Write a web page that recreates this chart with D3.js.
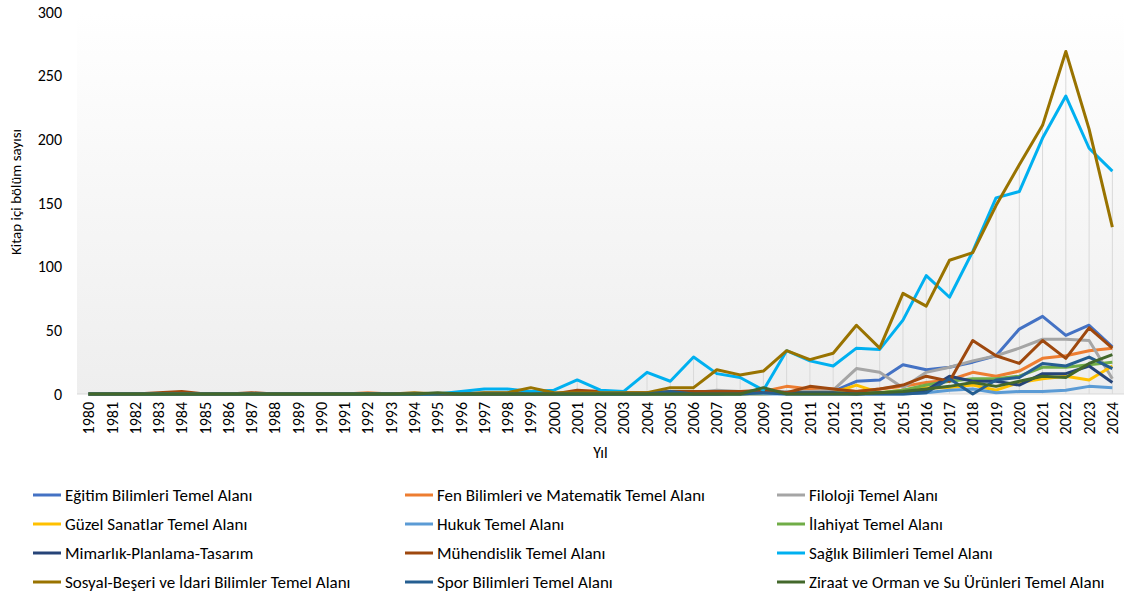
<!DOCTYPE html>
<html>
<head>
<meta charset="utf-8">
<script src="https://cdn.jsdelivr.net/npm/d3@7"></script>
<style>
  body { margin: 0; background: #fff; }
  text { font-family: Carlito, Calibri, Lato, sans-serif; fill: #000; }
</style>
</head>
<body>
<svg id="chart" width="1128" height="596"></svg>
<script>
// categories (years)
const years = [1980, 1981, 1982, 1983, 1984, 1985, 1986, 1987, 1988, 1989,
               1990, 1991, 1992, 1993, 1994, 1995, 1996, 1997, 1998, 1999,
               2000, 2001, 2002, 2003, 2004, 2005, 2006, 2007, 2008, 2009,
               2010, 2011, 2012, 2013, 2014, 2015, 2016, 2017, 2018, 2019,
               2020, 2021, 2022, 2023, 2024];
const yTicks = [0, 50, 100, 150, 200, 250, 300];

// series values, 1980..2024
const egitim = [0,0,0,0,0, 0,0,0,0,0, 0,0,0,0,0, 0,0,0,0,0, 0,0,0,0,0, 0,0,0,0,1, 1,1,2,10,11, 23,19,21,25,30, 51,61,46,54,37];
const fen = [0,0,0,0,0, 0,0,0,0,0, 0,0,1,0,0, 0,0,0,0,0, 0,1,0,0,0, 1,0,1,1,2, 6,4,4,2,4, 6,9,11,17,14, 18,28,30,34,36];
const filoloji = [0,0,0,0,0, 0,0,0,0,0, 0,0,0,0,0, 0,0,1,1,0, 0,0,0,0,0, 1,1,3,2,1, 2,2,3,20,17, 5,17,21,26,30, 36,43,43,42,12];
const guzel = [0,0,0,0,0, 0,0,0,0,0, 0,0,0,0,0, 0,0,0,0,0, 0,0,0,0,0, 0,0,0,0,0, 1,1,1,7,1, 3,5,5,7,3, 9,12,14,11,22];
const hukuk = [0,0,0,0,0, 0,0,0,0,0, 0,0,0,0,0, 0,0,0,0,0, 0,0,0,0,0, 0,0,0,0,0, 0,0,0,0,0, 0,1,3,4,1, 2,2,3,6,5];
const ilahiyat = [0,0,0,0,0, 0,0,0,0,0, 0,0,0,0,0, 0,0,0,0,0, 0,0,0,0,0, 0,0,0,0,1, 1,1,1,1,1, 3,7,10,12,12, 14,21,21,23,25];
const mimarlik = [0,0,0,0,0, 0,0,0,0,0, 0,0,0,0,0, 0,0,0,0,0, 0,0,0,0,0, 0,0,0,1,3, 1,1,1,0,1, 1,3,14,10,10, 7,16,16,22,9];
const muhendislik = [0,0,0,1,2, 0,0,1,0,0, 0,0,0,0,0, 0,0,0,0,0, 0,3,2,1,1, 2,2,2,2,3, 1,6,4,2,4, 7,14,10,42,30, 24,42,28,52,36];
const saglik = [0,0,0,0,0, 0,0,0,0,0, 0,0,0,0,0, 0,2,4,4,2, 3,11,3,2,17, 10,29,16,13,3, 34,26,22,36,35, 58,93,76,112,154, 159,201,234,193,175];
const sosyal = [0,0,0,0,0, 0,0,0,0,0, 0,0,0,0,1, 0,0,1,1,5, 1,1,1,1,1, 5,5,19,15,18, 34,27,32,54,36, 79,69,105,111,148, 180,211,269,208,131];
const spor = [0,0,0,0,0, 0,0,0,0,0, 0,0,0,0,0, 0,0,0,0,0, 0,0,0,0,0, 2,0,0,0,1, 0,0,0,0,0, 0,1,12,0,11, 13,24,22,29,20];
const ziraat = [0,0,0,0,0, 0,0,0,0,0, 0,0,0,0,0, 1,0,0,0,0, 0,0,0,0,0, 0,0,0,0,5, 0,0,0,0,1, 2,4,6,9,6, 10,14,13,24,31];

const seriesNames = ["Eğitim Bilimleri Temel Alanı", "Fen Bilimleri ve Matematik Temel Alanı", "Filoloji Temel Alanı",
                     "Güzel Sanatlar Temel Alanı", "Hukuk Temel Alanı", "İlahiyat Temel Alanı",
                     "Mimarlık-Planlama-Tasarım", "Mühendislik Temel Alanı", "Sağlık Bilimleri Temel Alanı",
                     "Sosyal-Beşeri ve İdari Bilimler Temel Alanı", "Spor Bilimleri Temel Alanı", "Ziraat ve Orman ve Su Ürünleri Temel Alanı"];
const seriesValues = [egitim, fen, filoloji, guzel, hukuk, ilahiyat, mimarlik, muhendislik, saglik, sosyal, spor, ziraat];
const seriesColors = ["#4472C4", "#ED7D31", "#A5A5A5", "#FFC000", "#5B9BD5", "#70AD47",
                      "#264478", "#9E480E", "#00B0F0", "#997300", "#255E91", "#43682B"];

const svg = d3.select("#chart");
const plot = { left: 77, right: 1124, top: 12, bottom: 394 };

const x = d3.scaleBand().domain(years).range([plot.left, plot.right]);
const cx = d => x(d) + x.bandwidth() / 2;
const y = d3.scaleLinear().domain([0, 300]).range([plot.bottom, plot.top]);

// plot area background (white to light gray)
const grad = svg.append("defs").append("linearGradient")
    .attr("id", "bg").attr("x1", 0).attr("y1", 0).attr("x2", 0).attr("y2", 1);
grad.append("stop").attr("offset", "0%").attr("stop-color", "#ffffff");
grad.append("stop").attr("offset", "100%").attr("stop-color", "#eeeeee");
svg.append("rect")
    .attr("x", plot.left).attr("y", plot.top)
    .attr("width", plot.right - plot.left).attr("height", plot.bottom - plot.top)
    .attr("fill", "url(#bg)");

// drop lines from the highest series at each year
const maxByYear = years.map((yr, i) => d3.max(seriesValues, s => s[i]));
svg.append("g").selectAll("line")
    .data(years)
    .join("line")
    .attr("x1", d => cx(d)).attr("x2", d => cx(d))
    .attr("y1", (d, i) => y(maxByYear[i])).attr("y2", y(0))
    .attr("stroke", "#d9d9d9").attr("stroke-width", 1);

// horizontal axis line
svg.append("line")
    .attr("x1", plot.left).attr("x2", plot.right)
    .attr("y1", y(0)).attr("y2", y(0))
    .attr("stroke", "#d9d9d9").attr("stroke-width", 1);

// y axis
const yAxis = svg.append("g")
    .attr("transform", `translate(${plot.left},0)`)
    .call(d3.axisLeft(y).tickValues(yTicks).tickSize(0).tickPadding(15));
yAxis.select(".domain").remove();
yAxis.selectAll("text").style("font-size", "16px").style("font-family", null).attr("fill", "#000");

// x axis
const xAxis = svg.append("g")
    .attr("transform", `translate(0,${y(0)})`)
    .call(d3.axisBottom(x).tickSize(0));
xAxis.select(".domain").remove();
xAxis.selectAll("text")
    .style("font-size", "16px").style("font-family", null).attr("fill", "#000")
    .attr("transform", "rotate(-90)")
    .attr("x", -8).attr("y", 0).attr("dy", "0.35em")
    .style("text-anchor", "end");

// axis titles
svg.append("text")
    .attr("transform", "translate(21,192) rotate(-90)")
    .attr("text-anchor", "middle")
    .style("font-size", "15px")
    .text("Kitap içi bölüm sayısı");
svg.append("text")
    .attr("x", (plot.left + plot.right) / 2).attr("y", 458)
    .attr("text-anchor", "middle")
    .style("font-size", "16px")
    .text("Yıl");

// series lines
const line = d3.line()
    .x((d, i) => cx(years[i]))
    .y(d => y(d));
svg.append("g").selectAll("path")
    .data(seriesValues)
    .join("path")
    .attr("d", d => line(d))
    .attr("fill", "none")
    .attr("stroke", (d, i) => seriesColors[i])
    .attr("stroke-width", 3)
    .attr("stroke-linejoin", "round");

// legend, 3 columns x 4 rows
const legendCols = [33, 405, 777];
const legendRows = [495, 524, 553, 582];
const legend = svg.append("g").selectAll("g")
    .data(seriesNames)
    .join("g")
    .attr("transform", (d, i) => `translate(${legendCols[i % 3]},${legendRows[Math.floor(i / 3)]})`);
legend.append("line")
    .attr("x1", 0).attr("x2", 28).attr("y1", 0).attr("y2", 0)
    .attr("stroke", (d, i) => seriesColors[i])
    .attr("stroke-width", 3);
legend.append("text")
    .attr("x", 32).attr("y", 0).attr("dy", "0.35em")
    .style("font-size", "17px")
    .text(d => d);
</script>
</body>
</html>
